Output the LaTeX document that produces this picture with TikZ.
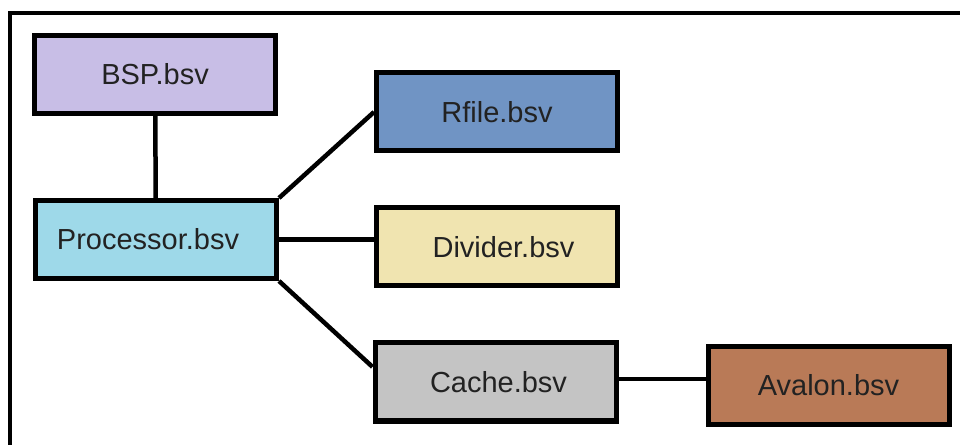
\documentclass[tikz,border=0pt]{standalone}
\usepackage{fontspec}
\setmainfont{Liberation Sans}
\definecolor{bspcol}{RGB}{200,190,230}
\definecolor{proccol}{RGB}{158,217,233}
\definecolor{rfilecol}{RGB}{112,148,196}
\definecolor{divcol}{RGB}{240,228,176}
\definecolor{cachecol}{RGB}{196,196,196}
\definecolor{avaloncol}{RGB}{185,122,87}
\definecolor{txtcol}{RGB}{34,34,34}
\tikzset{module/.style = {draw, line width=5pt, minimum width=241pt, minimum height=78pt, inner sep=0pt,
                          text=txtcol, font=\fontsize{29}{34}\selectfont}}
\tikzset{link/.style = {line width=4.5pt}}

\begin{document}
\begin{tikzpicture}[x=1pt, y=1pt]
      \useasboundingbox (0,0) rectangle (960,444);
      \clip (0,0) rectangle (960,444);
      \draw [line width=4pt] (10,-20) -- (10,431) -- (990,431);
      \node [module, fill=bspcol] (bsp) at (155,369.5) {BSP.bsv};
      \node [module, fill=proccol] (proc) at (156,204.5) {\hspace*{-16pt}Processor.bsv};
      \node [module, fill=rfilecol] (rfile) at (497,332) {Rfile.bsv};
      \node [module, fill=divcol] (divider) at (496.5,197) {\hspace*{14pt}Divider.bsv};
      \node [module, fill=cachecol] (cache) at (495.5,62) {\hspace*{6pt}Cache.bsv};
      \node [module, fill=avaloncol] (avalon) at (828.5,58.5) {Avalon.bsv};
      \draw [link] (bsp) -- (proc);
      \draw [link] (proc.north east) -- (rfile.west);
      \draw [link] (proc.east) -- (proc.east -| divider.west);
      \draw [link] (proc.south east) -- (cache.173);
      \draw [link] ([yshift=3pt]cache.east) -- ([yshift=3pt]cache.east -| avalon.west);
    \end{tikzpicture}
\end{document}
